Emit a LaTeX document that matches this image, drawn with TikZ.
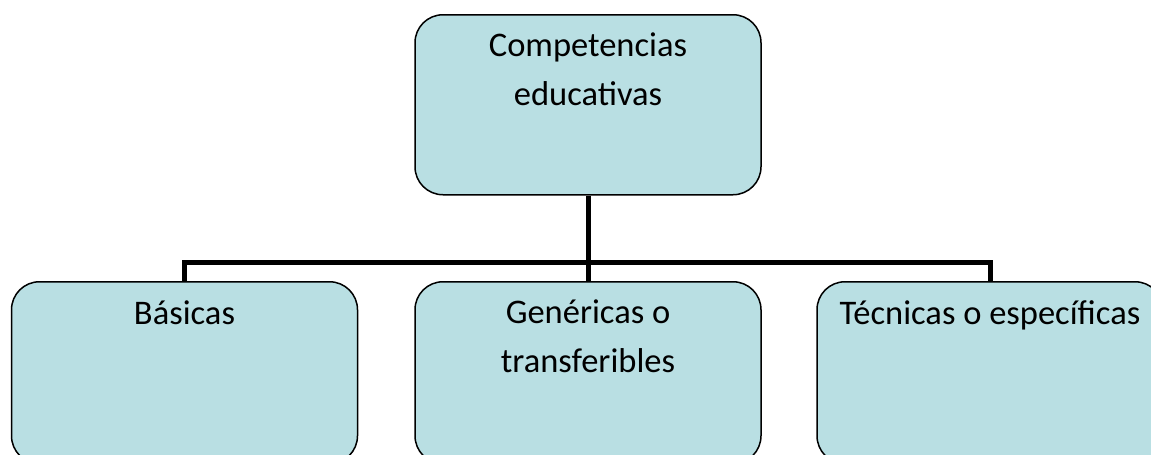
\documentclass[tikz,border=0pt]{standalone}
\usepackage{fontspec}
\setmainfont{Carlito}
\definecolor{boxfill}{RGB}{185,223,227}
\begin{document}
\begin{tikzpicture}[x=1pt,y=-1pt,
  box/.style={draw=black, line width=1.5pt, fill=boxfill, rounded corners=28pt,
    minimum width=346pt, minimum height=180pt, inner sep=0pt, anchor=north},
  lbl/.style={anchor=north, inner sep=0pt, align=center,
    font=\fontsize{34.5}{48.5}\selectfont,
    execute at begin node={\rule{0pt}{30pt}}},
  conn/.style={draw=black, line width=5pt}
]
\useasboundingbox (0,0) rectangle (1151,455);
\clip (0,0) rectangle (1151,455);
\node[box] (top) at (588,14) {};
\node[box, minimum height=182pt] (b1) at (184.5,281) {};
\node[box, minimum height=182pt] (b2) at (588,281) {};
\node[box, minimum height=182pt] (b3) at (990,281) {};
\coordinate (j) at (588,262);
\draw[conn] (top.south) -- (b2.north);
\draw[conn] (b1.north) |- (j) -| (b3.north);
\node[lbl] (t0) at ([yshift=-19pt]top.north) {Competencias\\educativas};
\node[lbl] (t1) at ([yshift=-13pt]b1.north) {Básicas};
\node[lbl] (t2) at ([yshift=-19pt]b2.north) {Genéricas o\\transferibles};
\node[lbl] (t3) at ([yshift=-13pt]b3.north) {Técnicas o específicas};
\end{tikzpicture}
\end{document}
